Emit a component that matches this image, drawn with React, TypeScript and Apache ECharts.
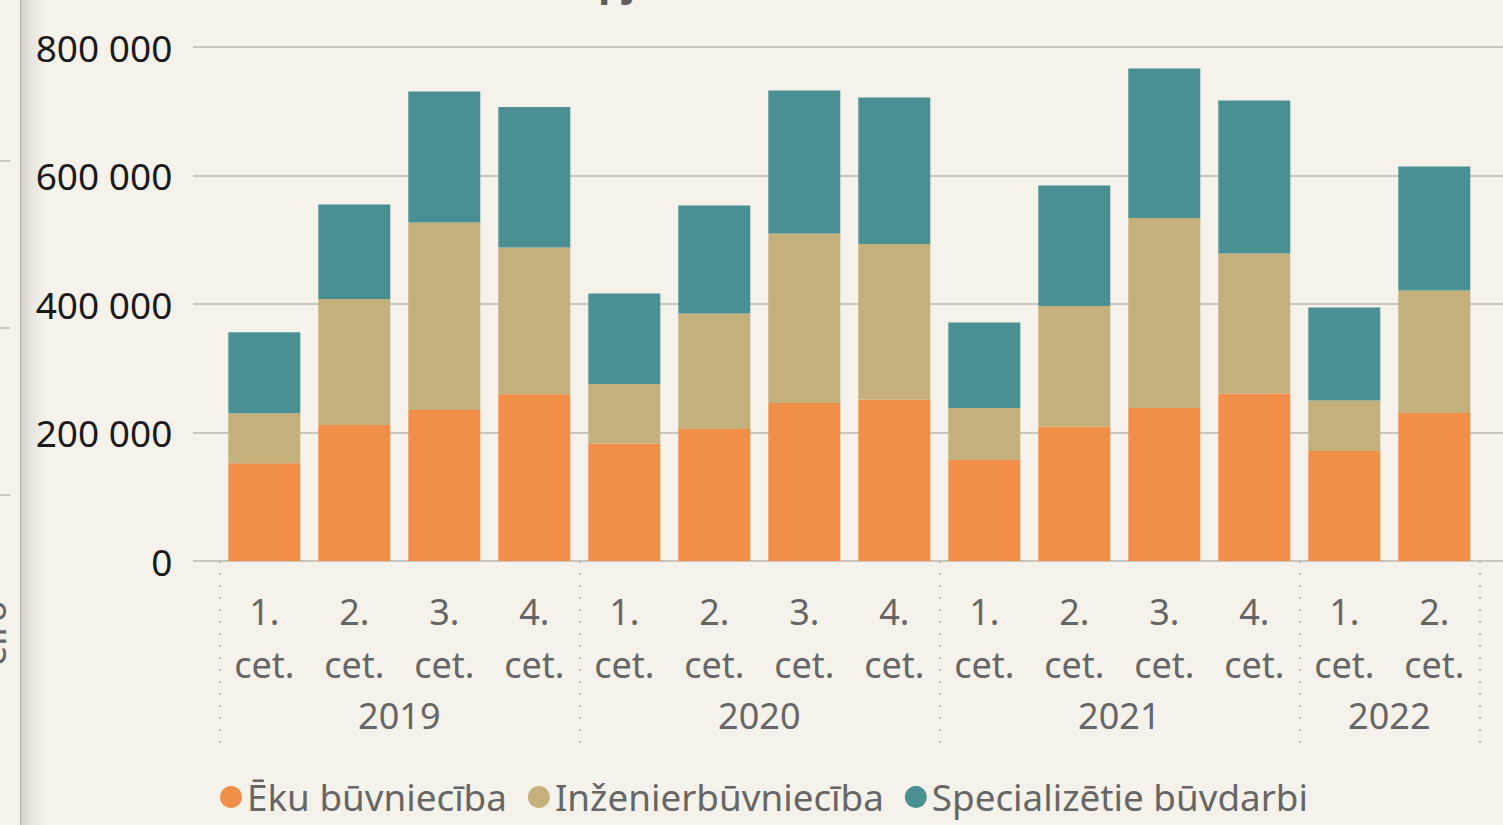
import React, { useEffect, useRef } from "react";
import * as echarts from "echarts";

const quarterLabels = [
  "1. cet.", "2. cet.", "3. cet.", "4. cet.",
  "1. cet.", "2. cet.", "3. cet.", "4. cet.",
  "1. cet.", "2. cet.", "3. cet.", "4. cet.",
  "1. cet.", "2. cet.",
];
const years = ["2019", "2020", "2021", "2022"];
const quartersPerYear = [4, 4, 4, 2];

const ekuBuvnieciba = [152000, 211700, 235000, 259400, 182900, 205400, 245900, 251400, 157200, 209300, 238100, 260700, 171200, 230300];
const inzenierbuvnieciba = [77900, 196100, 291800, 228500, 92600, 179800, 263800, 242000, 80900, 187600, 295700, 217900, 78600, 190700];
const specializetieBuvdarbi = [126100, 147100, 203900, 218700, 140800, 168100, 222600, 228000, 133100, 187500, 232700, 238100, 144700, 193000];

const seriesNames = ["Ēku būvniecība", "Inženierbūvniecība", "Specializētie būvdarbi"];
const yTicks = { min: 0, max: 800000, interval: 200000 };

const FONT = '"Noto Sans", "Open Sans", sans-serif';
const BG = "#F4F2EA";

export default function App() {
  const ref = useRef<HTMLDivElement>(null);
  useEffect(() => {
    document.body.style.margin = "0";
    document.body.style.background = BG;
    if (!ref.current) return;
    const chart = echarts.init(ref.current, undefined, { renderer: "svg" });

    const yearCenters: Record<number, string> = {};
    let acc = 0;
    quartersPerYear.forEach((n, i) => {
      yearCenters[acc + n / 2] = years[i];
      acc += n;
    });
    const total = acc;

    const fmt = (v: number) => String(v).replace(/\B(?=(\d{3})+(?!\d))/g, " ");

    chart.setOption({
      animation: false,
      backgroundColor: BG,
      textStyle: { fontFamily: FONT },
      grid: [
        { left: 219.3, right: 23.7, top: 47, bottom: 264 },
        { left: 193, right: 0, top: 47, bottom: 264 },
      ],
      legend: {
        left: 215,
        top: 770,
        icon: "circle",
        itemWidth: 22,
        itemHeight: 22,
        itemGap: 21,
        textStyle: { fontSize: 36.8, color: "#666666", fontFamily: FONT, lineHeight: 44 },
        data: seriesNames,
      },
      xAxis: [
        {
          type: "category",
          gridIndex: 0,
          data: quarterLabels,
          axisLine: { show: false },
          axisTick: { show: false },
          axisLabel: {
            interval: 0,
            formatter: (v: string) => v.replace(" ", "\n"),
            fontSize: 36,
            lineHeight: 53,
            color: "#666666",
            fontFamily: FONT,
            margin: 24,
          },
        },
        {
          type: "value",
          gridIndex: 0,
          position: "bottom",
          min: 0,
          max: total,
          interval: 1,
          axisLine: { show: false },
          axisTick: { show: false },
          splitLine: { show: false },
          axisLabel: {
            showMinLabel: true,
            showMaxLabel: true,
            formatter: (v: number) => yearCenters[v] || "",
            fontSize: 36,
            lineHeight: 40,
            color: "#666666",
            fontFamily: FONT,
            margin: 134,
          },
        },
        {
          type: "value",
          gridIndex: 0,
          position: "bottom",
          min: 0,
          max: total,
          interval: 4,
          axisLine: { show: false },
          splitLine: { show: false },
          axisLabel: { show: false },
          axisTick: {
            show: true,
            inside: false,
            length: 184,
            lineStyle: { color: "#BDBAB3", width: 2, type: [2, 10] },
          },
        },
        { type: "value", gridIndex: 1, show: false, min: 0, max: 1 },
      ],
      yAxis: [
        {
          type: "value",
          gridIndex: 0,
          ...yTicks,
          axisLine: { show: false },
          axisTick: { show: false },
          splitLine: { show: false },
          axisLabel: {
            formatter: fmt,
            fontSize: 37,
            color: "#1a1a1a",
            fontFamily: FONT,
            margin: 47,
          },
        },
        {
          type: "value",
          gridIndex: 1,
          ...yTicks,
          axisLine: { show: false },
          axisTick: { show: false },
          axisLabel: { show: false },
          splitLine: { lineStyle: { color: "#C9C6BF", width: 2 } },
        },
      ],
      series: [
        { name: seriesNames[0], type: "bar", stack: "t", xAxisIndex: 0, yAxisIndex: 0, barWidth: "80%", data: ekuBuvnieciba, itemStyle: { color: "#F18F49" } },
        { name: seriesNames[1], type: "bar", stack: "t", xAxisIndex: 0, yAxisIndex: 0, barWidth: "80%", data: inzenierbuvnieciba, itemStyle: { color: "#C4B07B" } },
        { name: seriesNames[2], type: "bar", stack: "t", xAxisIndex: 0, yAxisIndex: 0, barWidth: "80%", data: specializetieBuvdarbi, itemStyle: { color: "#4A9093" } },
      ],
      graphic: [
        {
          type: "text",
          x: 370,
          y: 0,
          style: {
            text: "Būvdarbu apjoms",
            fontSize: 40,
            fontWeight: "bold",
            fontFamily: FONT,
            fill: "#605E5C",
            verticalAlign: "bottom",
          },
        },
        {
          type: "rect",
          shape: { x: 21, y: 0, width: 26, height: 825 },
          style: {
            fill: new echarts.graphic.LinearGradient(0, 0, 1, 0, [
              { offset: 0, color: "rgba(0,0,0,0.13)" },
              { offset: 0.4, color: "rgba(0,0,0,0.05)" },
              { offset: 1, color: "rgba(0,0,0,0)" },
            ]),
          },
          silent: true,
        },
        { type: "line", shape: { x1: 20.5, y1: 0, x2: 20.5, y2: 825 }, style: { stroke: "#B4B1AB", lineWidth: 1 } },
        { type: "line", shape: { x1: 0, y1: 161, x2: 10, y2: 161 }, style: { stroke: "#BDBAB3", lineWidth: 1.5 } },
        { type: "line", shape: { x1: 0, y1: 328, x2: 10, y2: 328 }, style: { stroke: "#BDBAB3", lineWidth: 1.5 } },
        { type: "line", shape: { x1: 0, y1: 495, x2: 10, y2: 495 }, style: { stroke: "#BDBAB3", lineWidth: 1.5 } },
        {
          type: "text",
          x: -26,
          y: 666,
          rotation: Math.PI / 2,
          style: {
            text: "eiro",
            fontSize: 36,
            fontFamily: FONT,
            fill: "#666666",
            verticalAlign: "top",
          },
        },
      ],
    });
    return () => chart.dispose();
  }, []);
  return <div ref={ref} style={{ width: 1503, height: 825 }} />;
}
